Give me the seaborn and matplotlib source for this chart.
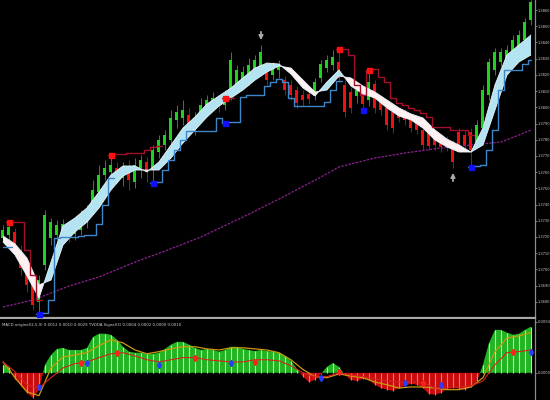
import numpy as np
import matplotlib
matplotlib.use("Agg")
import matplotlib.pyplot as plt
import seaborn as sns

# ---------------- data ----------------
opens = [1.37194, 1.37212, 1.37231, 1.37120, 1.37027, 1.36916, 1.36799, 1.37027, 1.37194, 1.37212,
         1.37224, 1.37255, 1.37218, 1.37243, 1.37292, 1.37366, 1.37477, 1.37582, 1.37601, 1.37625,
         1.37564, 1.37613, 1.37539, 1.37625, 1.37663, 1.37613, 1.37724, 1.37767, 1.37798, 1.37922,
         1.37934, 1.37952, 1.37872, 1.37934, 1.37996, 1.38020, 1.38033, 1.38014, 1.38076, 1.38138,
         1.38156, 1.38168, 1.38230, 1.38242, 1.38230, 1.38199, 1.38230, 1.38168, 1.38138, 1.38107,
         1.38076, 1.38082, 1.38070, 1.38181, 1.38242, 1.38261, 1.38280, 1.38138, 1.38094, 1.38070,
         1.38094, 1.38045, 1.38144, 1.38045, 1.37996, 1.37971, 1.37971, 1.37965, 1.37922, 1.37909,
         1.37860, 1.37841, 1.37829, 1.37811, 1.37798, 1.37767, 1.37848, 1.37829, 1.37848, 1.37786,
         1.37872, 1.38076, 1.38230, 1.38280, 1.38292, 1.38304, 1.38366, 1.38415, 1.38539]
closes = [1.37243, 1.37261, 1.37138, 1.37008, 1.36904, 1.36780, 1.36934, 1.37335, 1.37292, 1.37274,
          1.37280, 1.37206, 1.37268, 1.37335, 1.37354, 1.37490, 1.37582, 1.37625, 1.37644, 1.37564,
          1.37625, 1.37551, 1.37644, 1.37675, 1.37601, 1.37737, 1.37798, 1.37829, 1.37934, 1.37971,
          1.37983, 1.37891, 1.37934, 1.38014, 1.38045, 1.38057, 1.38002, 1.38064, 1.38292, 1.38230,
          1.38218, 1.38261, 1.38292, 1.38341, 1.38168, 1.38255, 1.38267, 1.38107, 1.38076, 1.38026,
          1.38045, 1.38051, 1.38156, 1.38267, 1.38292, 1.38310, 1.38181, 1.37971, 1.37996, 1.38107,
          1.38020, 1.38156, 1.37996, 1.37983, 1.37891, 1.37872, 1.37934, 1.37922, 1.37872, 1.37860,
          1.37767, 1.37761, 1.37767, 1.37755, 1.37761, 1.37663, 1.37761, 1.37767, 1.37737, 1.37891,
          1.38107, 1.38280, 1.38341, 1.38341, 1.38354, 1.38415, 1.38446, 1.38526, 1.38650]
highs = [1.37274, 1.37292, 1.37255, 1.37150, 1.37058, 1.36947, 1.36965, 1.37366, 1.37317, 1.37305,
         1.37311, 1.37280, 1.37292, 1.37366, 1.37397, 1.37551, 1.37644, 1.37675, 1.37706, 1.37663,
         1.37663, 1.37675, 1.37687, 1.37706, 1.37693, 1.37767, 1.37829, 1.37860, 1.37983, 1.38014,
         1.38045, 1.37996, 1.37971, 1.38057, 1.38076, 1.38094, 1.38076, 1.38107, 1.38341, 1.38261,
         1.38255, 1.38304, 1.38323, 1.38384, 1.38261, 1.38280, 1.38292, 1.38193, 1.38168, 1.38131,
         1.38107, 1.38107, 1.38181, 1.38292, 1.38323, 1.38354, 1.38354, 1.38168, 1.38125, 1.38138,
         1.38125, 1.38230, 1.38168, 1.38070, 1.38020, 1.38002, 1.37996, 1.37989, 1.37946, 1.37934,
         1.37885, 1.37872, 1.37860, 1.37835, 1.37823, 1.37798, 1.37872, 1.37860, 1.37872, 1.37922,
         1.38138, 1.38304, 1.38366, 1.38366, 1.38384, 1.38446, 1.38477, 1.38551, 1.38662]
lows = [1.37169, 1.37181, 1.37107, 1.36965, 1.36860, 1.36749, 1.36737, 1.36996, 1.37150, 1.37181,
        1.37194, 1.37169, 1.37181, 1.37212, 1.37255, 1.37342, 1.37453, 1.37551, 1.37564, 1.37533,
        1.37514, 1.37490, 1.37502, 1.37564, 1.37539, 1.37533, 1.37687, 1.37737, 1.37767, 1.37872,
        1.37891, 1.37848, 1.37829, 1.37909, 1.37971, 1.37983, 1.37971, 1.37983, 1.38045, 1.38094,
        1.38119, 1.38138, 1.38181, 1.38218, 1.38138, 1.38168, 1.38181, 1.38076, 1.38045, 1.37996,
        1.38008, 1.38020, 1.38045, 1.38156, 1.38218, 1.38230, 1.38156, 1.37940, 1.37965, 1.38026,
        1.37983, 1.38008, 1.37965, 1.37952, 1.37860, 1.37841, 1.37909, 1.37891, 1.37848, 1.37835,
        1.37737, 1.37737, 1.37737, 1.37724, 1.37730, 1.37625, 1.37737, 1.37737, 1.37644, 1.37761,
        1.37848, 1.38045, 1.38199, 1.38255, 1.38267, 1.38280, 1.38341, 1.38384, 1.38508]

# ribbon (fast / slow averages), every second bar
band_idx = list(range(0, 89, 2))
band_fast = [1.37169, 1.37089, 1.36959, 1.36823, 1.37045, 1.37268, 1.37317, 1.37379, 1.37477, 1.37582,
             1.37638, 1.37638, 1.37601, 1.37663, 1.37767, 1.37872, 1.37940, 1.38020, 1.38070, 1.38119,
             1.38181, 1.38242, 1.38273, 1.38267, 1.38205, 1.38119, 1.38070, 1.38156, 1.38230, 1.38131,
             1.38082, 1.38057, 1.37996, 1.37946, 1.37922, 1.37872, 1.37798, 1.37755, 1.37724, 1.37724,
             1.37872, 1.38138, 1.38323, 1.38384, 1.38446]
band_slow = [1.37206, 1.37157, 1.37070, 1.36904, 1.36934, 1.37150, 1.37231, 1.37292, 1.37379, 1.37490,
             1.37576, 1.37613, 1.37613, 1.37613, 1.37687, 1.37780, 1.37860, 1.37940, 1.38008, 1.38057,
             1.38107, 1.38168, 1.38218, 1.38255, 1.38242, 1.38168, 1.38094, 1.38107, 1.38193, 1.38181,
             1.38131, 1.38094, 1.38045, 1.37996, 1.37959, 1.37934, 1.37860, 1.37804, 1.37767, 1.37724,
             1.37767, 1.37983, 1.38199, 1.38280, 1.38323]

nan = np.nan
support = [1.37138, 1.37138, nan, nan, nan, nan, 1.36725, 1.36731, 1.36811, 1.37194,
           1.37200, 1.37200, 1.37200, 1.37206, 1.37212, 1.37212, 1.37280, 1.37397, 1.37564, nan,
           nan, nan, nan, nan, nan, 1.37533, 1.37539, 1.37613, 1.37675, 1.37737,
           1.37798, 1.37854, 1.37854, 1.37854, 1.37854, 1.37854, 1.37934, 1.37903, 1.37909, 1.37909,
           1.38064, 1.38076, 1.38076, 1.38076, 1.38131, 1.38156, 1.38175, 1.38156, 1.38057, 1.38008,
           1.38008, 1.38008, 1.38008, 1.38008, 1.38033, 1.38107, 1.38162, nan, nan, nan,
           nan, nan, nan, nan, nan, nan, nan, nan, nan, nan,
           nan, nan, nan, nan, nan, nan, nan, nan, 1.37632, 1.37638,
           1.37644, 1.37737, 1.37860, 1.38107, 1.38230, 1.38230, 1.38230, 1.38267, 1.38292]
resistance = [nan, 1.37292, 1.37292, 1.37292, 1.37120, 1.36965, 1.36811, nan, nan, nan,
              nan, nan, nan, nan, nan, nan, nan, nan, 1.37706, 1.37712,
              1.37712, 1.37718, 1.37718, 1.37718, 1.37737, 1.37755, 1.37761, nan, nan, nan,
              nan, nan, nan, nan, nan, nan, nan, 1.38057, 1.38057, nan,
              nan, nan, nan, nan, nan, nan, nan, nan, nan, nan,
              nan, nan, nan, nan, nan, nan, 1.38360, 1.38360, 1.38323, 1.38138,
              1.38076, 1.38230, 1.38236, 1.38187, 1.38156, 1.38057, 1.38026, 1.38014, 1.37996, 1.37983,
              1.37965, 1.37940, 1.37878, 1.37878, 1.37878, 1.37860, 1.37860, 1.37860, 1.37829, nan,
              nan, nan, nan, nan, nan, nan, nan, nan, nan]

# slow moving average (purple)
ma_idx = [0, 5, 11, 16, 22, 27, 33, 40, 46, 53, 56, 62, 67, 73, 78, 83, 86, 88]
ma_val = [1.36768, 1.36811, 1.36897, 1.36953, 1.37045, 1.37113, 1.37200, 1.37323, 1.37434, 1.37570,
          1.37632, 1.37687, 1.37718, 1.37749, 1.37767, 1.37786, 1.37829, 1.37860]

# signal squares
red_sq_idx = [1, 18, 37, 56, 61]
red_sq_val = [1.37292, 1.37706, 1.38057, 1.38360, 1.38230]
blue_sq_idx = [6, 25, 37, 60, 78]
blue_sq_val = [1.36725, 1.37533, 1.37903, 1.37983, 1.37632]

# arrows
arrow_down_idx, arrow_down_val = 43, 1.38397
arrow_up_idx, arrow_up_val = 75, 1.37613

price_ticks = [1.3680, 1.3690, 1.3700, 1.3710, 1.3720, 1.3730, 1.3740, 1.3750, 1.3760, 1.3770,
               1.3780, 1.3790, 1.3800, 1.3810, 1.3820, 1.3830, 1.3840, 1.3850, 1.3860]

# oscillator panel
hist = [0.0015, 0.0011, -0.0011, -0.0024, -0.0037, -0.0046, -0.0031, 0.0015, 0.0033, 0.0044,
        0.0046, 0.0042, 0.0042, 0.0042, 0.0046, 0.0066, 0.0072, 0.0072, 0.0070, 0.0061,
        0.0048, 0.0039, 0.0037, 0.0037, 0.0035, 0.0035, 0.0037, 0.0044, 0.0052, 0.0057,
        0.0057, 0.0052, 0.0046, 0.0042, 0.0044, 0.0042, 0.0039, 0.0042, 0.0048, 0.0048,
        0.0044, 0.0042, 0.0040, 0.0042, 0.0040, 0.0039, 0.0037, 0.0031, 0.0022, 0.0007,
        -0.0007, -0.0017, -0.0013, -0.0002, 0.0011, 0.0018, 0.0011, -0.0004, -0.0013, -0.0015,
        -0.0011, -0.0013, -0.0022, -0.0028, -0.0031, -0.0033, -0.0028, -0.0024, -0.0020, -0.0022,
        -0.0028, -0.0039, -0.0040, -0.0037, -0.0029, -0.0028, -0.0029, -0.0031, -0.0026, -0.0015,
        0.0015, 0.0055, 0.0079, 0.0079, 0.0074, 0.0070, 0.0072, 0.0079, 0.0085]
osc_idx = list(range(0, 89, 2))
signal_line = [0.0020, -0.0009, -0.0035, -0.0042, 0.0009, 0.0029, 0.0033, 0.0037, 0.0050, 0.0061,
               0.0055, 0.0042, 0.0035, 0.0039, 0.0044, 0.0048, 0.0048, 0.0044, 0.0042, 0.0046,
               0.0046, 0.0044, 0.0042, 0.0037, 0.0024, 0.0006, -0.0007, -0.0009, -0.0002, -0.0006,
               -0.0009, -0.0017, -0.0022, -0.0028, -0.0026, -0.0026, -0.0028, -0.0031, -0.0031, -0.0026,
               -0.0009, 0.0039, 0.0064, 0.0068, 0.0074]
slow_line = [0.0020, 0.0002, -0.0022, -0.0028, -0.0009, 0.0009, 0.0017, 0.0020, 0.0028, 0.0035,
             0.0037, 0.0031, 0.0024, 0.0020, 0.0024, 0.0028, 0.0028, 0.0024, 0.0022, 0.0020,
             0.0020, 0.0024, 0.0024, 0.0022, 0.0013, 0.0000, -0.0007, -0.0007, 0.0000, -0.0004,
             -0.0007, -0.0011, -0.0015, -0.0017, -0.0017, -0.0018, -0.0028, -0.0028, -0.0026, -0.0024,
             -0.0015, 0.0015, 0.0037, 0.0039, 0.0042]
osc_red_idx = [13, 19, 32, 42, 56, 70, 85]
osc_red_val = [0.0018, 0.0037, 0.0028, 0.0020, 0.0002, -0.0018, 0.0039]
osc_blue_idx = [6, 14, 26, 38, 53, 67, 73, 88]
osc_blue_val = [-0.0026, 0.0018, 0.0015, 0.0018, -0.0009, -0.0018, -0.0022, 0.0039]
osc_ticks = [0.0094, 0.0]
osc_labels = ["0.0094", "0.0000"]
osc_title = "MACD original(2,5,9) 0.0012 0.0010 0.0029 TVDDA Signal(3) 0.0004 0.0002 0.0000 0.0010"

# ---------------- drawing ----------------
sns.set_theme(style="dark", rc={"axes.facecolor": "black", "figure.facecolor": "black",
                                "savefig.facecolor": "black"})
plt.rcParams['font.family'] = ['DejaVu Sans']

W, H = 550, 400
fig = plt.figure(figsize=(5.5, 4), dpi=100)
ax = fig.add_axes([0, 82 / H, 535 / W, 318 / H])
ax2 = fig.add_axes([0, 0, 535 / W, 81 / H])

idx = np.arange(len(closes))
o = np.array(opens); c = np.array(closes)
up = c >= o
body_col = np.where(up, "#1ed21e", "#f01010")
wick_col = np.where(up, "#129a12", "#b00c0c")

# candles
ax.vlines(idx, lows, highs, colors=wick_col, lw=0.7, zorder=2)
ax.bar(idx, c - o, bottom=o, width=0.5, color=body_col, linewidth=0, zorder=3)

# purple slow MA
sns.lineplot(x=ma_idx, y=ma_val, ax=ax, color="#8a2090", lw=0.9, linestyle=(0, (2, 1)), zorder=2)

# ribbon
bf = np.array(band_fast); bs = np.array(band_slow)
ax.fill_between(band_idx, bf, bs, where=bf >= bs, interpolate=True, color="#b4e4f2", lw=0, zorder=5)
ax.fill_between(band_idx, bf, bs, where=bf < bs, interpolate=True, color="#fff0f2", lw=0, zorder=5)
ax.plot(band_idx, band_fast, color="#e8f6fb", lw=0.6, zorder=6)
ax.plot(band_idx, band_slow, color="#e8f6fb", lw=0.6, zorder=6)

# support / resistance step lines
ax.plot(idx, resistance, color="#a0102a", lw=1.0, drawstyle="steps-mid", zorder=7)
ax.plot(idx, support, color="#3f86c8", lw=1.0, drawstyle="steps-mid", zorder=7)

ax.plot(red_sq_idx, red_sq_val, ls="none", marker="s", ms=3.6, color="#ff1010", zorder=8)
ax.plot(blue_sq_idx, blue_sq_val, ls="none", marker="s", ms=3.6, color="#1010ff", zorder=8)

# arrows
ax.annotate("", xy=(arrow_down_idx, arrow_down_val), xytext=(0, 10), textcoords="offset points",
            arrowprops=dict(arrowstyle="-|>", color="#a8a8a8", lw=1.3, mutation_scale=6), zorder=9)
ax.annotate("", xy=(arrow_up_idx, arrow_up_val), xytext=(0, -10), textcoords="offset points",
            arrowprops=dict(arrowstyle="-|>", color="#a8a8a8", lw=1.3, mutation_scale=6), zorder=9)

ax.set_xlim(-0.5, 88.67)
ax.set_ylim(1.36700, 1.38662)
ax.set_xticks([])
ax.yaxis.tick_right()
ax.set_yticks(price_ticks)
ax.set_yticklabels([f"{t:.4f}" for t in price_ticks])
ax.tick_params(axis="y", colors="#909090", labelcolor="#c8c8c8", labelsize=2.6,
               length=1.5, width=0.6, pad=0.6, right=True)
for s in ["top", "left"]:
    ax.spines[s].set_visible(False)
ax.spines["right"].set_color("#8c8c8c"); ax.spines["right"].set_linewidth(0.9)
ax.spines["bottom"].set_color("#a8a8a8"); ax.spines["bottom"].set_linewidth(1.6)
ax.set_xlabel(""); ax.set_ylabel("")

# oscillator panel
hv = np.array(hist)
ax2.fill_between(idx, 0, hv, where=hv >= 0, interpolate=True, color="#22b422", lw=0, zorder=2)
ax2.fill_between(idx, 0, hv, where=hv < 0, interpolate=True, color="#c80c0c", lw=0, zorder=2)
ax2.vlines(idx, 0, hv, colors=np.where(hv >= 0, "#9cff9c", "#ff7070"), lw=0.8, zorder=3)
sns.lineplot(x=osc_idx, y=signal_line, ax=ax2, color="#c89a10", lw=0.9, zorder=4)
sns.lineplot(x=osc_idx, y=slow_line, ax=ax2, color="#d82020", lw=0.8, zorder=4)
ax2.plot(osc_red_idx, osc_red_val, ls="none", marker="d", ms=3.2, color="#ff2020", zorder=5)
ax2.plot(osc_blue_idx, osc_blue_val, ls="none", marker="d", ms=3.2, color="#2a3cff", zorder=5)
ax2.text(0.004, 0.95, osc_title, transform=ax2.transAxes, va="top", ha="left",
         fontsize=2.8, color="#d0d0d0")

ax2.set_xlim(-0.5, 88.67)
ax2.set_ylim(-0.0050, 0.0099)
ax2.set_xticks([])
ax2.yaxis.tick_right()
ax2.set_yticks(osc_ticks)
ax2.set_yticklabels(osc_labels)
ax2.tick_params(axis="y", colors="#909090", labelcolor="#c8c8c8", labelsize=2.6,
                length=1.5, width=0.6, pad=0.6, right=True)
for s in ["top", "left", "bottom"]:
    ax2.spines[s].set_visible(False)
ax2.spines["right"].set_color("#8c8c8c"); ax2.spines["right"].set_linewidth(0.9)
ax2.set_xlabel(""); ax2.set_ylabel("")

fig.savefig("out.png", dpi=100, facecolor="black")
